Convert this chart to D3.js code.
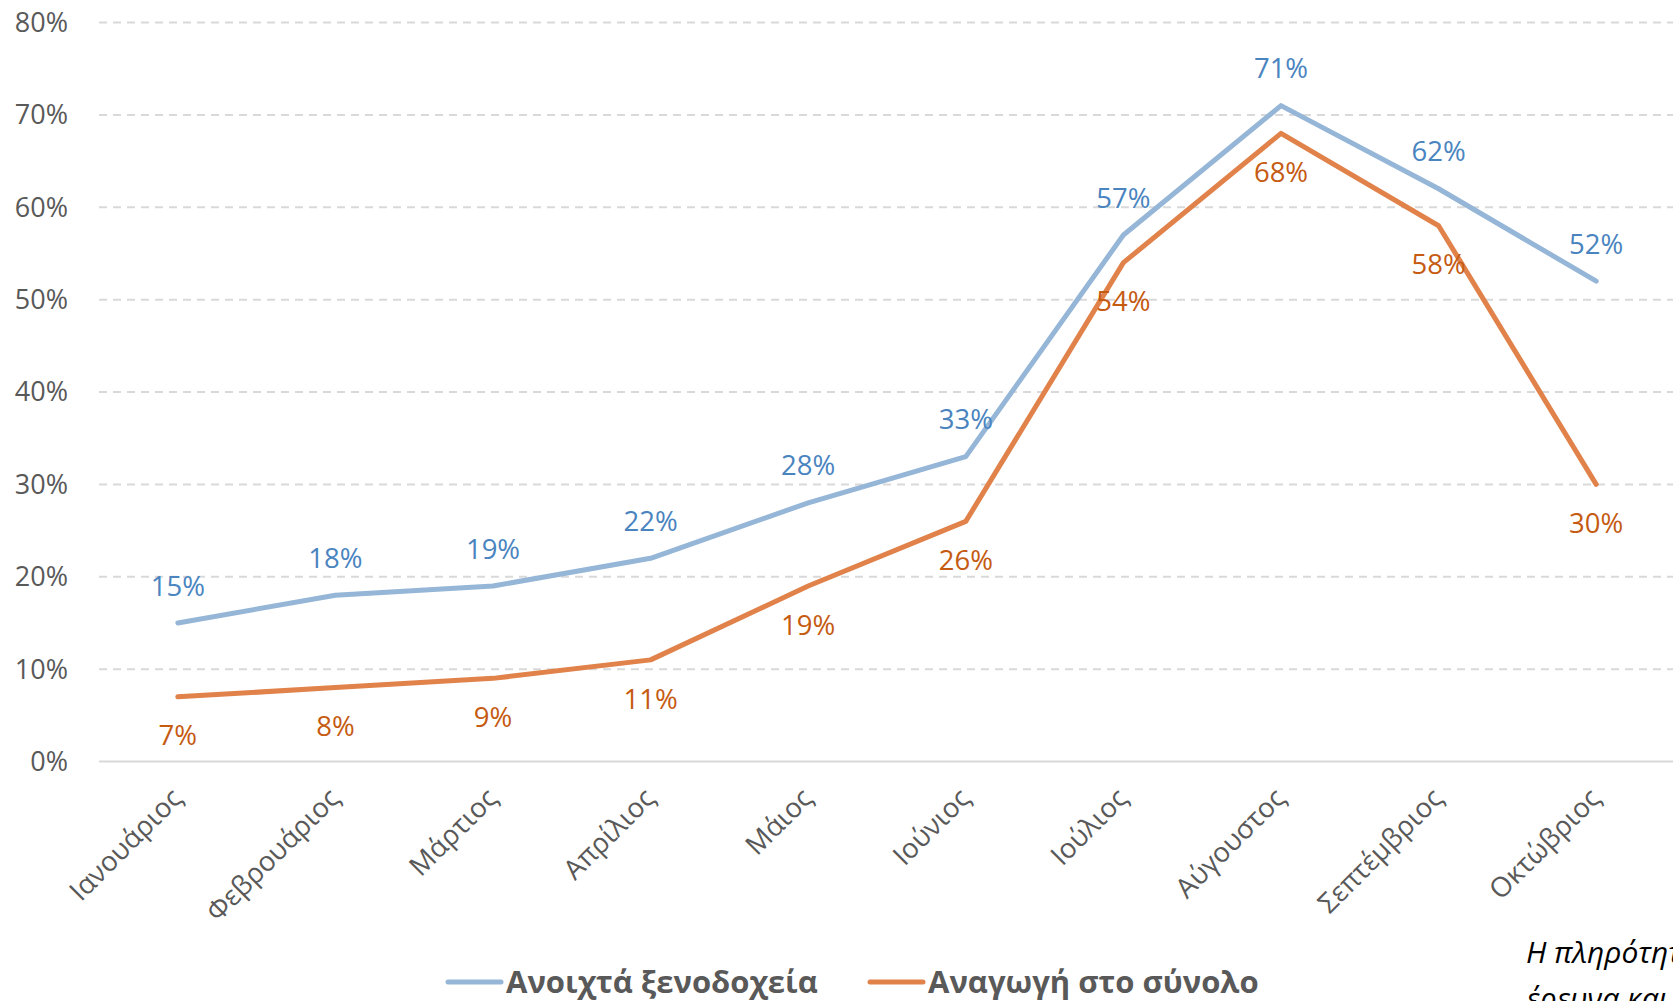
<!DOCTYPE html>
<html><head><meta charset="utf-8">
<script src="https://cdn.jsdelivr.net/npm/d3@7"></script>
<style>body{margin:0;background:#fff;overflow:hidden}svg{display:block}</style>
</head><body>
<svg id="c" width="1673" height="1001"></svg>
<script>
const months = ["Ιανουάριος","Φεβρουάριος","Μάρτιος","Απρίλιος","Μάιος","Ιούνιος","Ιούλιος","Αύγουστος","Σεπτέμβριος","Οκτώβριος"];
const openHotels = [15,18,19,22,28,33,57,71,62,52];
const overall = [7,8,9,11,19,26,54,68,58,30];
const yTicks = [0,10,20,30,40,50,60,70,80];
const seriesNames = ["Ανοιχτά ξενοδοχεία","Αναγωγή στο σύνολο"];
const noteLines = ["Η πληρότητα","έρευνα και"];

const FONT = "'Open Sans', sans-serif";
const svg = d3.select("#c");
const x = d3.scaleBand().domain(months).range([99, 1675]);
const y = d3.scaleLinear().domain([0,80]).range([761.5, 22.5]);
const cx = d => x(d) + x.bandwidth()/2;

// gridlines
svg.append("g").selectAll("line").data(yTicks).join("line")
  .attr("x1", 99).attr("x2", 1673)
  .attr("y1", d=>y(d)).attr("y2", d=>y(d))
  .attr("stroke", "#d9d9d9").attr("stroke-width", 2)
  .attr("stroke-dasharray", d => d===0 ? null : "8,6");

// y axis labels
svg.append("g").selectAll("text").data(yTicks).join("text")
  .attr("x", 68).attr("y", d=>y(d)).attr("dy","0.35em")
  .attr("text-anchor","end").attr("font-family",FONT).attr("font-size",27)
  .attr("fill","#595959").text(d=>d+"%");

// x labels
svg.append("g").selectAll("text").data(months).join("text")
  .attr("transform", d=>`translate(${cx(d)-1},${793}) rotate(-45)`)
  .attr("text-anchor","end").attr("dy","0.35em")
  .attr("font-family",FONT).attr("font-size",27.5).attr("fill","#595959").text(d=>d);

const series = [
  {vals: openHotels, line:"#95b6d7", lab:"#4a84bf", off:-37},
  {vals: overall, line:"#e0824a", lab:"#c55a11", off:39}
];
const lineGen = d3.line().x((d,i)=>cx(months[i])).y(d=>y(d));
series.forEach(s=>{
  svg.append("path").datum(s.vals).attr("d", lineGen)
    .attr("fill","none").attr("stroke", s.line).attr("stroke-width",5)
    .attr("stroke-linejoin","round").attr("stroke-linecap","round");
});
series.forEach(s=>{
  svg.append("g").selectAll("text").data(s.vals).join("text")
    .attr("x",(d,i)=>cx(months[i])).attr("y",d=>y(d)+s.off).attr("dy","0.35em")
    .attr("text-anchor","middle").attr("font-family",FONT).attr("font-size",27.5)
    .attr("fill", s.lab).text(d=>d+"%");
});

// legend
const legX = [448, 870];
series.forEach((s,i)=>{
  svg.append("line").attr("x1",legX[i]).attr("x2",legX[i]+53).attr("y1",982).attr("y2",982)
    .attr("stroke",s.line).attr("stroke-width",5).attr("stroke-linecap","round");
  svg.append("text").attr("x",legX[i]+58).attr("y",982).attr("dy","0.35em")
    .attr("font-family",FONT).attr("font-size",31).attr("font-weight","bold")
    .attr("fill","#595959").text(seriesNames[i]);
});

// note
svg.append("g").selectAll("text").data(noteLines).join("text")
  .attr("x",1526).attr("y",(d,i)=>952+i*46).attr("dy","0.35em")
  .attr("font-family",FONT).attr("font-size",30).attr("font-style","italic")
  .attr("fill","#000").text(d=>d);
</script>
</body></html>
